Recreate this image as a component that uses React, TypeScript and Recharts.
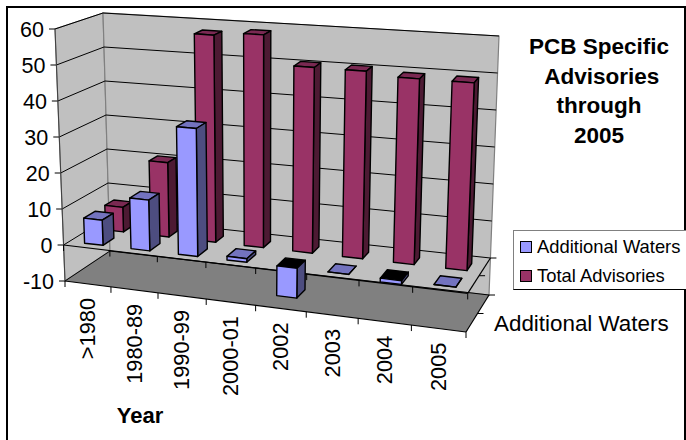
import React from 'react';
import { Bar, BarChart, Legend, XAxis, YAxis } from 'recharts';

const categories = ['>1980', '1980-89', '1990-99', '2000-01', '2002', '2003', '2004', '2005'];
const additionalWaters = [7, 14, 35, 1, -8, 0, -1, 0];
const totalAdvisories = [7, 21, 58, 59, 51, 51, 50, 50];
const valueTicks = [-10, 0, 10, 20, 30, 40, 50, 60];
const titleLines = ['PCB Specific', ' Advisories', 'through', '2005'];

const data = categories.map((year, i) => ({
  year,
  additional: additionalWaters[i],
  total: totalAdvisories[i],
}));

const W = 686;
const H = 440;
// the axes take 1px each, so the plot starts at 60,30
const margin = { top: 30, right: 206, bottom: 109, left: 59 };
const plotLeft = margin.left + 1;
const plotW = W - plotLeft - margin.right;
const plotH = H - margin.top - margin.bottom - 1;
const FONT = 'Arial, "Liberation Sans", sans-serif';

// corners of the 3D box on screen, named by [x, value, depth]
const corners = {
  c000: [65, 281], c100: [466, 332], c010: [55, 29], c110: [478, 62],
  c001: [110, 251], c101: [489, 295], c011: [103, 13], c111: [499, 36],
};
const FORESHORTEN = 0.906;
const BAR_NUDGE = 0.004;

const mix = (a: number[], b: number[], t: number) => [a[0] + (b[0] - a[0]) * t, a[1] + (b[1] - a[1]) * t];

// u along categories, v up the value axis, d into the page, all 0..1
function project(u: number, v: number, d: number) {
  const s = (FORESHORTEN * u) / (1 - u + FORESHORTEN * u);
  const front = mix(mix(corners.c000, corners.c100, s), mix(corners.c010, corners.c110, s), v);
  const back = mix(mix(corners.c001, corners.c101, s), mix(corners.c011, corners.c111, s), v);
  return mix(front, back, d);
}

const valueToV = (value: number) => (value + 10) / 70;
const poly = (pts: number[][]) => pts.map((p) => `${p[0].toFixed(1)},${p[1].toFixed(1)}`).join(' ');

function Box3D(props: any) {
  const { x, y, width, height, fill, side, top, near, far } = props;
  const u0 = (x - plotLeft) / plotW + BAR_NUDGE;
  const u1 = (x + width - plotLeft) / plotW + BAR_NUDGE;
  const yA = Math.min(y, y + height);
  const yB = Math.max(y, y + height);
  const vTop = (margin.top + plotH - yA) / plotH;
  const vBot = (margin.top + plotH - yB) / plotH;
  // a bar hanging below zero shows its dark open end
  const negative = vBot < valueToV(0) - 0.001;
  const line = { stroke: '#000', strokeWidth: 1.4, strokeLinejoin: 'round' as const };
  return (
    <g>
      <polygon
        points={poly([project(u0, vTop, near), project(u1, vTop, near), project(u1, vTop, far), project(u0, vTop, far)])}
        fill={negative ? '#000' : top}
        {...line}
      />
      <polygon
        points={poly([project(u1, vBot, near), project(u1, vTop, near), project(u1, vTop, far), project(u1, vBot, far)])}
        fill={side}
        {...line}
      />
      <polygon
        points={poly([project(u0, vBot, near), project(u1, vBot, near), project(u1, vTop, near), project(u0, vTop, near)])}
        fill={fill}
        {...line}
      />
    </g>
  );
}

function Seg({ a, b, color = '#000', w = 1 }: { a: number[]; b: number[]; color?: string; w?: number }) {
  return <line x1={a[0]} y1={a[1]} x2={b[0]} y2={b[1]} stroke={color} strokeWidth={w} />;
}

// walls, floor, grid and tick marks sit behind the bars
function Backdrop() {
  const vZero = valueToV(0);
  const slots = categories.map((_, i) => i / categories.length).concat(1);
  return (
    <g>
      <rect x={7} y={7} width={678} height={460} fill="#fff" stroke="#000" strokeWidth={2} />
      <polygon
        points={poly([project(0, 0, 0), project(0, 1, 0), project(0, 1, 1), project(0, 0, 1)])}
        fill="#c0c0c0"
        stroke="#808080"
        strokeWidth={1.2}
      />
      <polygon
        points={poly([project(0, 0, 1), project(0, 1, 1), project(1, 1, 1), project(1, 0, 1)])}
        fill="#c0c0c0"
        stroke="#808080"
        strokeWidth={1.2}
      />
      <polygon
        points={poly([project(0, 0, 0), project(1, 0, 0), project(1, 0, 1), project(0, 0, 1)])}
        fill="#808080"
      />
      {valueTicks.map((t) => {
        const v = valueToV(t);
        const a = project(0, v, 0);
        return (
          <g key={t}>
            <Seg a={[a[0] - 6, a[1]]} b={a} />
            <Seg a={a} b={project(0, v, 1)} />
            <Seg a={project(0, v, 1)} b={project(1, v, 1)} />
          </g>
        );
      })}
      <Seg a={project(0, 0, 0)} b={project(0, 1, 0)} color="#404040" />
      {[0, vZero].map((v) => (
        <g key={v}>
          <Seg a={project(0, v, 0)} b={project(1, v, 0)} w={1.2} />
          <Seg a={project(1, v, 0)} b={project(1, v, 1)} w={1.2} />
          {slots.map((s) => {
            const p = project(s, v, 0);
            return <Seg key={s} a={p} b={[p[0], p[1] + 6]} />;
          })}
          {[0.5, 1].map((d) => {
            const p = project(1, v, d);
            return <Seg key={d} a={p} b={[p[0] + 6, p[1]]} />;
          })}
        </g>
      ))}
      {titleLines.map((line, i) => (
        <text key={line} x={599} y={54 + i * 29.7} textAnchor="middle" fontFamily={FONT} fontSize={22.5} fontWeight="bold" xmlSpace="preserve">
          {line}
        </text>
      ))}
      <text x={140} y={423} textAnchor="middle" fontFamily={FONT} fontSize={22} fontWeight="bold">
        Year
      </text>
      <text x={494} y={331} fontFamily={FONT} fontSize={22.4} fill="#000">
        Additional Waters
      </text>
    </g>
  );
}

function ValueTick({ payload }: any) {
  const p = project(0, valueToV(payload.value), 0);
  return (
    <text x={p[0] - 11} y={p[1] + 1} textAnchor="end" dominantBaseline="central" fontFamily={FONT} fontSize={21.5} fill="#000">
      {payload.value}
    </text>
  );
}

function YearTick({ x, payload }: any) {
  const p = project((x - plotLeft) / plotW, 0, 0);
  const py = p[1] + 14;
  return (
    <text
      x={p[0]}
      y={py}
      transform={`rotate(-90 ${p[0]} ${py})`}
      textAnchor="end"
      dominantBaseline="central"
      fontFamily={FONT}
      fontSize={21.8}
      fill="#000"
    >
      {payload.value}
    </text>
  );
}

function LegendBox({ payload }: any) {
  return (
    <div
      style={{
        boxSizing: 'border-box',
        width: 173,
        height: 60,
        borderTop: '1px solid #808080',
        borderLeft: '1px solid #808080',
        borderBottom: '1px solid #000',
        background: '#fff',
        fontFamily: FONT,
        fontSize: 18.4,
        paddingTop: 1,
      }}
    >
      {(payload || []).map((item: any) => (
        <div key={item.value} style={{ display: 'flex', alignItems: 'center', height: 29, paddingLeft: 6 }}>
          <span style={{ width: 10, height: 10, background: item.color, border: '1px solid #000', marginRight: 5 }} />
          <span>{item.value}</span>
        </div>
      ))}
    </div>
  );
}

export default function App() {
  return (
    <div style={{ position: 'absolute', left: 0, top: 0 }}>
      <BarChart width={W} height={H} data={data} margin={margin} barCategoryGap="30%">
        <Backdrop />
        <XAxis xAxisId="back" dataKey="year" height={1} interval={0} tickLine={false} axisLine={false} tick={YearTick} />
        <XAxis xAxisId="front" dataKey="year" hide />
        <YAxis
          type="number"
          width={1}
          domain={[-10, 60]}
          ticks={valueTicks}
          interval={0}
          tickLine={false}
          axisLine={false}
          tick={ValueTick}
        />
        <Legend
          layout="vertical"
          align="center"
          verticalAlign="middle"
          content={LegendBox}
          wrapperStyle={{ left: 513, top: 230, width: 173, height: 60 }}
        />
        <Bar
          xAxisId="back"
          dataKey="total"
          name="Total Advisories"
          fill="#993366"
          isAnimationActive={false}
          shape={(p: any) => <Box3D {...p} side="#4d1a33" top="#7a2952" near={0.6} far={0.8} />}
        />
        <Bar
          xAxisId="front"
          dataKey="additional"
          name="Additional Waters"
          fill="#9999ff"
          isAnimationActive={false}
          shape={(p: any) => <Box3D {...p} side="#4d4d80" top="#7373bf" near={0.13} far={0.38} />}
        />
      </BarChart>
    </div>
  );
}
